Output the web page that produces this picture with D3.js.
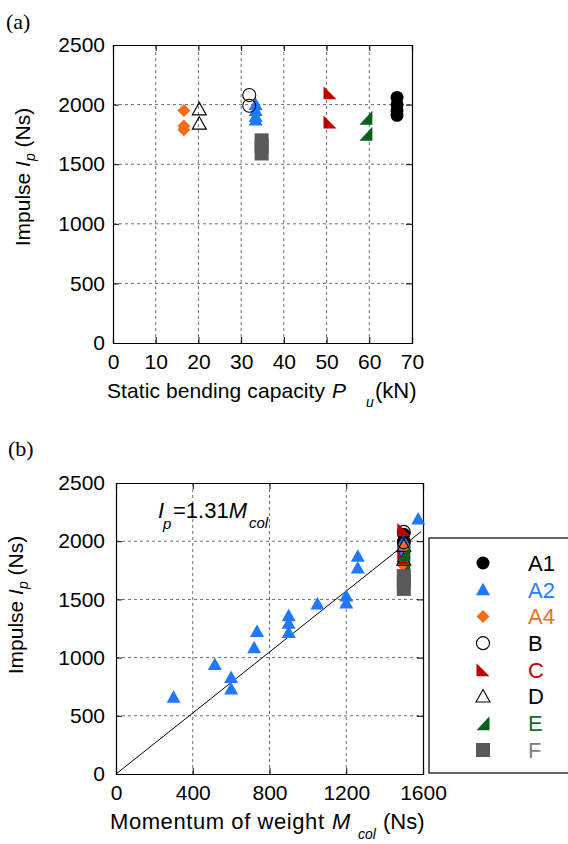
<!DOCTYPE html>
<html><head><meta charset="utf-8">
<script src="https://cdn.jsdelivr.net/npm/d3@7"></script>
<style>body{margin:0;background:#fff;} svg{display:block;}</style>
</head><body>
<svg id="chart" width="568" height="844"></svg>
<script>
// ---------- data ----------
const seriesNames = ["A1","A2","A4","B","C","D","E","F"];
const markerColors = ["#000000","#1f78ff","#f26c19","#000000","#c00000","#000000","#0b5e1c","#595959"];
const labelColors  = ["#000000","#2a7bff","#f07020","#000000","#c00000","#000000","#1e6b2e","#808080"];
const shapes = ["dot","tri","diamond","ring","rtL","otri","rtR","square"];

// panel (a): static bending capacity Pu (kN) vs impulse Ip (Ns)
const A1_Pu = [66.5, 66.5, 66.5, 66.5];       const A1_Ip = [2060, 2000, 1950, 1910];
const A2_Pu = [33.4, 33.4, 33.4, 33.4];       const A2_IpA = [2000, 1950, 1900, 1870];
const A4_Pu = [16.6, 16.6, 16.6];             const A4_Ip = [1950, 1820, 1790];
const B_Pu  = [31.9, 31.9];                   const B_Ip  = [2080, 1990];
const C_Pu  = [50.8, 50.8];                   const C_Ip  = [2100, 1855];
const D_Pu  = [20.2, 20.2];                   const D_Ip  = [1960, 1840];
const E_Pu  = [59.2, 59.2];                   const E_Ip  = [1890, 1755];
const F_Pu  = [34.8, 34.8, 34.8];             const F_Ip  = [1700, 1650, 1590];

// panel (b): momentum of weight Mcol (Ns) vs impulse Ip (Ns)
const A1_M = [1500, 1500, 1500, 1500];
const A2_M = [300, 515, 600, 600, 720, 735, 900, 900, 900, 1050, 1200, 1200, 1260, 1260, 1575, 1500, 1500, 1500, 1500];
const A2_IpB = [660, 940, 830, 730, 1085, 1225, 1360, 1295, 1215, 1460, 1530, 1470, 1870, 1770, 2190, 2000, 1950, 1900, 1870];
const A4_M = [1500, 1500, 1500];
const B_M  = [1500, 1500];
const C_M  = [1500, 1500];
const D_M  = [1500, 1500];
const E_M  = [1500, 1500];
const F_M  = [1500, 1500, 1500];
const fitSlope = 1.31;
const fitRange = [0, 1590];

const xTicksA = [0,10,20,30,40,50,60,70];
const xTicksB = [0,400,800,1200,1600];
const yTicks  = [0,500,1000,1500,2000,2500];

const panelA = [
  [A1_Pu, A1_Ip],[A2_Pu, A2_IpA],[A4_Pu, A4_Ip],[B_Pu, B_Ip],
  [C_Pu, C_Ip],[D_Pu, D_Ip],[E_Pu, E_Ip],[F_Pu, F_Ip]];
const panelB = [
  [A1_M, A1_Ip],[A2_M, A2_IpB],[A4_M, A4_Ip],[B_M, B_Ip],
  [C_M, C_Ip],[D_M, D_Ip],[E_M, E_Ip],[F_M, F_Ip]];

// ---------- drawing ----------
const svg = d3.select("#chart");
const FONT = "Liberation Sans, Arial, Helvetica, sans-serif";
const FS = 21;

function markerPath(shape, cx, cy) {
  const p = d3.path();
  switch (shape) {
    case "dot": case "ring":
      p.moveTo(cx + 6.5, cy); p.arc(cx, cy, 6.5, 0, 2 * Math.PI); break;
    case "tri": case "otri":
      p.moveTo(cx, cy - 7); p.lineTo(cx + 7, cy + 5.5); p.lineTo(cx - 7, cy + 5.5); p.closePath(); break;
    case "diamond":
      p.moveTo(cx, cy - 6.5); p.lineTo(cx + 6.5, cy); p.lineTo(cx, cy + 6.5); p.lineTo(cx - 6.5, cy); p.closePath(); break;
    case "rtL":
      p.moveTo(cx - 6.5, cy - 6.5); p.lineTo(cx + 6.5, cy + 6.5); p.lineTo(cx - 6.5, cy + 6.5); p.closePath(); break;
    case "rtR":
      p.moveTo(cx + 6.5, cy - 7); p.lineTo(cx + 6.5, cy + 7); p.lineTo(cx - 6.5, cy + 7); p.closePath(); break;
    case "square":
      p.rect(cx - 7, cy - 7, 14, 14); break;
  }
  return p.toString();
}
function styleMarker(sel, i) {
  const open = shapes[i] === "ring" || shapes[i] === "otri";
  sel.attr("fill", open ? "none" : markerColors[i])
     .attr("stroke", open ? "#000" : "none")
     .attr("stroke-width", open ? 1.1 : 0);
}

function drawPanel(x, y, xTicks, padY) {
  const [x0, x1] = x.range(), [y0, y1] = y.range();
  const g = svg.append("g");
  g.selectAll(".gx").data(xTicks.slice(1, -1)).enter().append("line")
    .attr("x1", d => x(d)).attr("x2", d => x(d)).attr("y1", y0).attr("y2", y1)
    .attr("stroke", "#6e6e6e").attr("stroke-dasharray", "3,3").attr("stroke-width", 1);
  g.selectAll(".gy").data(yTicks.slice(1, -1)).enter().append("line")
    .attr("y1", d => y(d)).attr("y2", d => y(d)).attr("x1", x0).attr("x2", x1)
    .attr("stroke", "#6e6e6e").attr("stroke-dasharray", "3,3").attr("stroke-width", 1);
  const fmt = d3.format("d");
  const ax = [
    g.append("g").attr("transform", `translate(0,${y0})`).call(d3.axisBottom(x).tickValues(xTicks).tickSize(-6).tickPadding(11).tickFormat(fmt)),
    g.append("g").attr("transform", `translate(${x0},0)`).call(d3.axisLeft(y).tickValues(yTicks).tickSize(-6).tickPadding(padY).tickFormat(fmt)),
    g.append("g").attr("transform", `translate(0,${y1})`).call(d3.axisTop(x).tickValues(xTicks).tickSize(-6).tickFormat("")),
    g.append("g").attr("transform", `translate(${x1},0)`).call(d3.axisRight(y).tickValues(yTicks).tickSize(-6).tickFormat(""))
  ];
  ax.forEach(a => {
    a.select(".domain").attr("stroke", "#000").attr("stroke-width", 1.2);
    a.selectAll(".tick line").attr("stroke", "#000");
    a.selectAll("text").attr("font-family", FONT).attr("font-size", FS).attr("fill", "#000");
  });
  return g;
}

function drawPoints(g, x, y, data) {
  data.forEach(([xs, ys], i) => {
    g.append("g").selectAll("path").data(xs.map((v, k) => [v, ys[k]])).enter().append("path")
      .attr("d", d => markerPath(shapes[i], x(d[0]), y(d[1])))
      .call(styleMarker, i);
  });
}

// Panel (a)
const xA = d3.scaleLinear().domain([0, 70]).range([113, 412]);
const yA = d3.scaleLinear().domain([0, 2500]).range([343, 45]);
const gA = drawPanel(xA, yA, xTicksA, 8);
drawPoints(gA, xA, yA, panelA);

// Panel (b)
const xB = d3.scaleLinear().domain([0, 1600]).range([116, 423]);
const yB = d3.scaleLinear().domain([0, 2500]).range([774, 483]);
const gB = drawPanel(xB, yB, xTicksB, 11);
gB.append("line")
  .attr("x1", xB(fitRange[0])).attr("y1", yB(fitSlope * fitRange[0]))
  .attr("x2", xB(fitRange[1])).attr("y2", yB(fitSlope * fitRange[1]))
  .attr("stroke", "#000").attr("stroke-width", 1);
drawPoints(gB, xB, yB, panelB);

// panel labels
svg.append("text").attr("x", 6).attr("y", 29).attr("font-family", "Liberation Serif, Times New Roman, serif")
  .attr("font-size", 22).text("(a)");
svg.append("text").attr("x", 8).attr("y", 456).attr("font-family", "Liberation Serif, Times New Roman, serif")
  .attr("font-size", 22).text("(b)");

// y titles
function yTitle(cx, cy) {
  const t = svg.append("text").attr("transform", `translate(${cx},${cy}) rotate(-90)`)
    .attr("text-anchor", "middle").attr("font-family", FONT).attr("font-size", FS).attr("dy", "0.35em");
  t.append("tspan").text("Impulse ");
  t.append("tspan").attr("font-style", "italic").text("I");
  t.append("tspan").attr("font-style", "italic").attr("font-size", 14).attr("dy", 5).text("p");
  t.append("tspan").attr("dy", -5).text(" (Ns)");
}
yTitle(23, 177);
yTitle(16, 605);

// x titles
const txA = svg.append("text").attr("y", 398).attr("font-family", FONT).attr("font-size", FS);
txA.append("tspan").attr("x", 107).attr("textLength", 218).attr("lengthAdjust", "spacing").text("Static bending capacity");
txA.append("tspan").attr("x", 332).attr("font-style", "italic").text("P");
txA.append("tspan").attr("x", 366).attr("dy", 9).attr("font-style", "italic").attr("font-size", 14).text("u");
txA.append("tspan").attr("x", 375).attr("dy", -9).attr("font-size", 22).text("(kN)");

const txB = svg.append("text").attr("y", 829).attr("font-family", FONT).attr("font-size", 22);
txB.append("tspan").attr("x", 110).attr("textLength", 214).attr("lengthAdjust", "spacing").text("Momentum of weight");
txB.append("tspan").attr("x", 332).attr("font-style", "italic").text("M");
txB.append("tspan").attr("x", 358).attr("dy", 10).attr("font-style", "italic").attr("font-size", 14).text("col");
txB.append("tspan").attr("x", 383).attr("dy", -10).text("(Ns)");

// equation
const eq = svg.append("text").attr("x", 158).attr("y", 518).attr("font-family", FONT).attr("font-size", 22);
eq.append("tspan").attr("font-style", "italic").text("I");
eq.append("tspan").attr("x", 163).attr("dy", 11).attr("font-style", "italic").attr("font-size", 15).text("p");
eq.append("tspan").attr("x", 173).attr("dy", -11).text("=" + fitSlope.toFixed(2));
eq.append("tspan").attr("font-style", "italic").text("M");
eq.append("tspan").attr("dx", 2).attr("dy", 10).attr("font-style", "italic").attr("font-size", 15).text("col");

// legend
const lg = svg.append("g");
lg.append("rect").attr("x", 429).attr("y", 538).attr("width", 150).attr("height", 235)
  .attr("fill", "#fff").attr("stroke", "#000").attr("stroke-width", 1.2);
const legY = d3.scalePoint().domain(seriesNames).range([563, 750]);
seriesNames.forEach((s, i) => {
  lg.append("path").attr("d", markerPath(shapes[i], 483, legY(s))).call(styleMarker, i);
  lg.append("text").attr("x", 528).attr("y", legY(s)).attr("dy", "0.36em")
    .attr("font-family", FONT).attr("font-size", 22).attr("fill", labelColors[i]).text(s);
});
</script>
</body></html>
